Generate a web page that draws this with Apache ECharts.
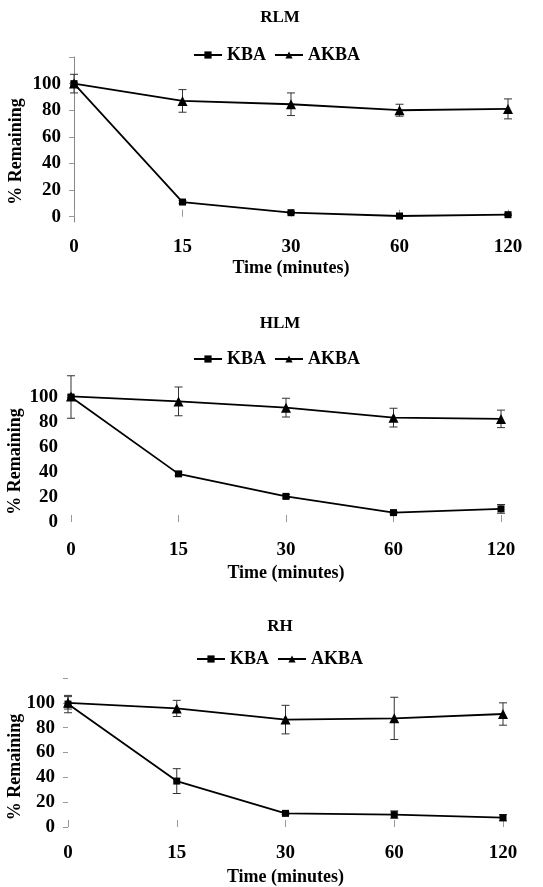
<!DOCTYPE html>
<html>
<head>
<meta charset="utf-8">
<script src="https://cdn.jsdelivr.net/npm/echarts@6/dist/echarts.min.js"></script>
<style>
    html, body { margin: 0; padding: 0; background: #fff; }
    #chart { width: 543px; height: 887px; }
</style>
</head>
<body>
<div id="chart"></div>
<script>
    // time points (category axis) and y tick labels
    const times = ['0', '15', '30', '60', '120'];
    const yTickLabels = [0, 20, 40, 60, 80, 100];
    const yTicks = [0, 20, 40, 60, 80, 100, 120];

    // RLM
    const rlmKba = [100, 11, 3, 0.5, 1.5];
    const rlmKbaErr = [1, 1, 0.8, 0.5, 0.5];
    const rlmAkba = [100, 87, 84.5, 80, 81];
    const rlmAkbaErr = [7, 8.5, 8.5, 4.5, 7.5];

    // HLM
    const hlmKba = [100, 38.5, 20.5, 7.5, 10.5];
    const hlmKbaErr = [17, 1.5, 1.5, 1, 3.5];
    const hlmAkba = [100.5, 96.5, 91.5, 83.5, 82.5];
    const hlmAkbaErr = [1, 11.5, 7.5, 7.5, 7];

    // RH
    const rhKba = [99, 37, 11, 10, 7.5];
    const rhKbaErr = [7, 10, 1, 3, 2.5];
    const rhAkba = [100, 95.5, 86.5, 87.5, 91];
    const rhAkbaErr = [5, 6.5, 11.5, 17, 9];

    const font = '"Liberation Serif", "Times New Roman", serif';

    // panel layout: grid + where title / legend sit
    const panels = [
        {title: 'RLM', titleTop: 4, legendTop: 46, legendLeft: 193,
         grid: {left: 74, top: 57, width: 434, height: 165},
         axisLine: true, yTick: true, labelMargin: 16, nameGap: 37, yNameGap: 49,
         kba: rlmKba, kbaErr: rlmKbaErr, akba: rlmAkba, akbaErr: rlmAkbaErr},
        {title: 'HLM', titleTop: 310, legendTop: 350, legendLeft: 193,
         grid: {left: 71, top: 372, width: 430, height: 155},
         axisLine: false, yTick: false, labelMargin: 14, nameGap: 37, yNameGap: 47,
         kba: hlmKba, kbaErr: hlmKbaErr, akba: hlmAkba, akbaErr: hlmAkbaErr},
        {title: 'RH', titleTop: 613, legendTop: 650, legendLeft: 196,
         grid: {left: 68, top: 678, width: 435, height: 154},
         axisLine: false, yTick: true, labelMargin: 12, nameGap: 36, yNameGap: 44,
         kba: rhKba, kbaErr: rhKbaErr, akba: rhAkba, akbaErr: rhAkbaErr}
    ];

    function errorBars(idx, vals, errs) {
        return {
            type: 'custom',
            xAxisIndex: idx,
            yAxisIndex: idx,
            z: 1,
            silent: true,
            data: vals.map((v, i) => [i, v - errs[i], v + errs[i]]),
            renderItem(params, api) {
                const lo = api.coord([api.value(0), api.value(1)]);
                const hi = api.coord([api.value(0), api.value(2)]);
                const w = 4;
                const st = {stroke: '#333', lineWidth: 1};
                return {
                    type: 'group',
                    children: [
                        {type: 'line', shape: {x1: lo[0], y1: lo[1], x2: hi[0], y2: hi[1]}, style: st},
                        {type: 'line', shape: {x1: lo[0] - w, y1: lo[1], x2: lo[0] + w, y2: lo[1]}, style: st},
                        {type: 'line', shape: {x1: hi[0] - w, y1: hi[1], x2: hi[0] + w, y2: hi[1]}, style: st}
                    ]
                };
            }
        };
    }

    const option = {
        backgroundColor: '#fff',
        animation: false,
        title: [], legend: [], grid: [], xAxis: [], yAxis: [], series: []
    };

    panels.forEach((p, i) => {
        option.title.push({
            text: p.title, left: 275, top: p.titleTop, textAlign: 'center',
            textStyle: {fontFamily: font, fontWeight: 'bold', fontSize: 17, color: '#000'}
        });
        option.legend.push({
            left: p.legendLeft, top: p.legendTop, padding: 0,
            data: ['KBA', 'AKBA'],
            itemWidth: 28, itemHeight: 9, itemGap: 8,
            textStyle: {fontFamily: font, fontWeight: 'bold', fontSize: 18, color: '#000'}
        });
        option.grid.push(Object.assign({outerBoundsMode: 'none', containLabel: false}, p.grid));
        option.xAxis.push({
            gridIndex: i,
            type: 'category',
            data: times,
            boundaryGap: false,
            name: 'Time (minutes)',
            nameLocation: 'middle',
            nameGap: p.nameGap,
            nameTextStyle: {fontFamily: font, fontWeight: 'bold', fontSize: 18, color: '#000'},
            axisLine: {show: false},
            axisTick: {show: true, inside: true, length: 7, lineStyle: {color: '#999'}},
            axisLabel: {fontFamily: font, fontWeight: 'bold', fontSize: 19, color: '#000', margin: p.labelMargin},
            splitLine: {show: false}
        });
        option.yAxis.push({
            gridIndex: i,
            type: 'value',
            min: -4,
            max: 120,
            name: '% Remaining',
            nameLocation: 'middle',
            nameGap: p.yNameGap,
            nameMoveOverlap: false,
            nameTextStyle: {fontFamily: font, fontWeight: 'bold', fontSize: 18, color: '#000', padding: [0, 24, 0, 0]},
            axisLine: {show: p.axisLine, lineStyle: {color: '#888'}},
            axisTick: {show: p.yTick, length: 5, customValues: yTicks, lineStyle: {color: '#999'}},
            axisLabel: {fontFamily: font, fontWeight: 'bold', fontSize: 19, color: '#000', margin: 13, customValues: yTickLabels},
            splitLine: {show: false}
        });

        option.series.push(errorBars(i, p.kba, p.kbaErr));
        option.series.push(errorBars(i, p.akba, p.akbaErr));
        option.series.push({
            name: 'KBA', type: 'line', xAxisIndex: i, yAxisIndex: i,
            data: p.kba, symbol: 'rect', symbolSize: 7, z: 3,
            itemStyle: {color: '#000'}, lineStyle: {color: '#000', width: 1.8}
        });
        option.series.push({
            name: 'AKBA', type: 'line', xAxisIndex: i, yAxisIndex: i,
            data: p.akba, symbol: 'triangle', symbolSize: 10, z: 3,
            itemStyle: {color: '#000'}, lineStyle: {color: '#000', width: 1.8}
        });
    });

    const chart = echarts.init(document.getElementById('chart'));
    chart.setOption(option);
</script>
</body>
</html>
